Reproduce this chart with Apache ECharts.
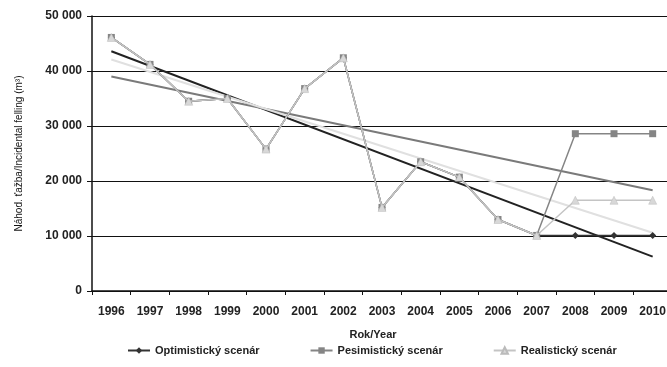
<!DOCTYPE html>
<html>
<head>
<meta charset="utf-8">
<script src="https://cdn.jsdelivr.net/npm/echarts@6/dist/echarts.min.js"></script>
<style>html,body{margin:0;padding:0;background:#fff;overflow:hidden;width:667px;height:367px;}#c{width:680px;height:367px;}</style>
</head>
<body>
<div id="c"></div>
<script>
var years = ['1996','1997','1998','1999','2000','2001','2002','2003','2004','2005','2006','2007','2008','2009','2010'];
var yTicks = [0, 10000, 20000, 30000, 40000, 50000];
var optimistic = [46100, 41200, 34500, 35000, 25800, 36800, 42400, 15200, 23500, 20700, 13000, 10100, 10100, 10100, 10100];
var pessimistic = [46100, 41200, 34500, 35000, 25800, 36800, 42400, 15200, 23500, 20700, 13000, 10100, 28600, 28600, 28600];
var realistic = [46100, 41200, 34500, 35000, 25800, 36800, 42400, 15200, 23500, 20700, 13000, 10100, 16500, 16500, 16500];
var trendOptimistic = [43600, null, null, null, null, null, null, null, null, null, null, null, null, null, 6250];
var trendPessimistic = [39000, null, null, null, null, null, null, null, null, null, null, null, null, null, 18300];
var trendRealistic = [42100, null, null, null, null, null, null, null, null, null, null, null, null, null, 10600];
var names = ['Optimistický scenár', 'Pesimistický scenár', 'Realistický scenár'];

function fmt(v){ return v === 0 ? '0' : String(v).replace(/\B(?=(\d{3})+(?!\d))/g, ' '); }

var chart = echarts.init(document.getElementById('c'));
var font = 'Liberation Sans, Arial, sans-serif';
chart.setOption({
  animation: false,
  backgroundColor: '#fff',
  grid: { left: 92, top: 16, width: 580, height: 275 },
  legend: {
    data: names,
    bottom: 6,
    left: 122,
    itemGap: 50,
    itemWidth: 22,
    itemHeight: 8,
    textStyle: { fontFamily: font, fontSize: 11, fontWeight: 'bold', color: '#222' }
  },
  xAxis: {
    type: 'category',
    data: years,
    boundaryGap: true,
    name: 'Rok/Year',
    nameLocation: 'middle',
    nameGap: 38,
    nameTextStyle: { fontFamily: font, fontSize: 11, fontWeight: 'bold', color: '#222', padding: [0, 18, 0, 0] },
    axisLine: { lineStyle: { color: '#111', width: 1.5 } },
    axisTick: { show: true, interval: 0, inside: false, length: 4, lineStyle: { color: '#111' } },
    axisLabel: { interval: 0, margin: 15, fontFamily: font, fontSize: 12, fontWeight: 'bold', color: '#222' },
    splitLine: { show: false }
  },
  yAxis: {
    type: 'value',
    min: yTicks[0],
    max: yTicks[yTicks.length - 1],
    interval: yTicks[1] - yTicks[0],
    name: 'Náhod. ťažba/Incidental felling (m³)',
    nameLocation: 'middle',
    nameGap: 68,
    nameTextStyle: { fontFamily: font, fontSize: 10, color: '#111' },
    axisLine: { show: true, lineStyle: { color: '#111', width: 1.5 } },
    axisTick: { show: true, inside: false, length: 5, lineStyle: { color: '#111' } },
    axisLabel: { margin: 10, fontFamily: font, fontSize: 12, fontWeight: 'bold', color: '#222', formatter: fmt },
    splitLine: { show: true, lineStyle: { color: '#111', width: 1 } }
  },
  series: [
    { name: 'trendO', type: 'line', data: trendOptimistic, connectNulls: true, symbol: 'none', lineStyle: { color: '#222', width: 2 }, z: 3 },
    { name: 'trendP', type: 'line', data: trendPessimistic, connectNulls: true, symbol: 'none', lineStyle: { color: '#7a7a7a', width: 2 }, z: 3 },
    { name: 'trendR', type: 'line', data: trendRealistic, connectNulls: true, symbol: 'none', lineStyle: { color: '#e0e0e0', width: 2 }, z: 3 },
    { name: names[0], type: 'line', data: optimistic, symbol: 'diamond', symbolSize: 7, itemStyle: { color: '#333' }, lineStyle: { color: '#333', width: 1.5 }, z: 4 },
    { name: names[1], type: 'line', data: pessimistic, symbol: 'rect', symbolSize: 7, itemStyle: { color: '#858585' }, lineStyle: { color: '#858585', width: 1.5 }, z: 5 },
    { name: names[2], type: 'line', data: realistic, symbol: 'triangle', symbolSize: 8, itemStyle: { color: '#d8d8d8', borderColor: '#bbb', borderWidth: 0.5 }, lineStyle: { color: '#c4c4c4', width: 1.5 }, z: 6 }
  ]
});
</script>
</body>
</html>
